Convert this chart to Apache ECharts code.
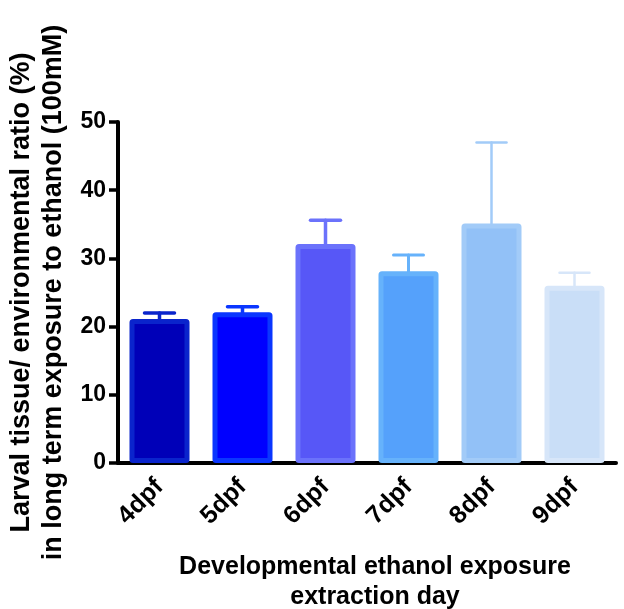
<!DOCTYPE html>
<html>
<head>
<meta charset="utf-8">
<script src="https://cdn.jsdelivr.net/npm/echarts@6/dist/echarts.min.js"></script>
<style>
html,body{margin:0;padding:0;background:#fff;}
#chart{width:624px;height:609px;}
</style>
</head>
<body>
<div id="chart"></div>
<script>
const categories = ['4dpf', '5dpf', '6dpf', '7dpf', '8dpf', '9dpf'];
const means = [21.1, 22.1, 32.1, 28.1, 35.1, 26.0];
const errors = [0.9, 0.8, 3.5, 2.4, 11.9, 1.9];
const yTicks = [0, 10, 20, 30, 40, 50];

const fillColors = ['#0000b8', '#0000ff', '#5757f7', '#55a1fb', '#92c1f7', '#c9def7'];
const edgeColors = ['#0a24cc', '#0a36ff', '#6b72fb', '#66b2fb', '#a2cbf8', '#d7e6f9'];
const errWidths = [3.5, 3.5, 3.5, 3, 2.5, 2.5];

const FONT = '"Liberation Sans", Arial, sans-serif';
const chart = echarts.init(document.getElementById('chart'), null, {renderer: 'canvas'});

chart.setOption({
  animation: false,
  grid: {left: 118, right: 8, top: 122, bottom: 146, containLabel: false, outerBoundsMode: 'none'},
  xAxis: {
    type: 'category',
    data: categories,
    name: 'Developmental ethanol exposure\nextraction day',
    nameLocation: 'middle',
    nameGap: 89,
    nameTextStyle: {fontFamily: FONT, fontWeight: 'bold', fontSize: 25, color: '#000', lineHeight: 30, verticalAlign: 'top', padding: [0, 0, 0, 16]},
    axisLine: {lineStyle: {color: '#000', width: 4}},
    axisTick: {alignWithLabel: true, length: 9, lineStyle: {color: '#000', width: 3.5}},
    axisLabel: {rotate: 45, margin: 20, fontFamily: FONT, fontWeight: 'bold', fontSize: 25, color: '#000'}
  },
  yAxis: {
    type: 'value',
    min: yTicks[0],
    max: yTicks[yTicks.length - 1],
    interval: 10,
    name: 'Larval tissue/ environmental ratio (%)\nin long term exposure to ethanol (100mM)',
    nameLocation: 'middle',
    nameGap: 44,
    nameTextStyle: {fontFamily: FONT, fontWeight: 'bold', fontSize: 27, color: '#000', lineHeight: 32, verticalAlign: 'bottom'},
    axisLine: {show: true, lineStyle: {color: '#000', width: 4}},
    axisTick: {show: true, length: 9, lineStyle: {color: '#000', width: 3.5}},
    axisLabel: {margin: 12, fontFamily: FONT, fontWeight: 'bold', fontSize: 23, color: '#000'},
    splitLine: {show: false}
  },
  series: [
    {
      type: 'custom',
      z: 1,
      data: categories.map((c, i) => [i, means[i], means[i] + errors[i]]),
      renderItem: function (params, api) {
        const i = api.value(0);
        const base = api.coord([i, api.value(1)]);
        const top = api.coord([i, api.value(2)]);
        const half = 15;
        const st = {stroke: edgeColors[i], lineWidth: errWidths[i], lineCap: 'round'};
        return {
          type: 'group',
          children: [
            {type: 'line', shape: {x1: base[0], y1: base[1], x2: top[0], y2: top[1]}, style: st},
            {type: 'line', shape: {x1: top[0] - half, y1: top[1], x2: top[0] + half, y2: top[1]}, style: st}
          ]
        };
      }
    },
    {
      type: 'bar',
      z: 2,
      barWidth: 60,
      data: means.map((v, i) => ({
        value: v,
        itemStyle: {color: fillColors[i], borderColor: edgeColors[i], borderWidth: 5, borderRadius: 1}
      }))
    }
  ]
});
</script>
</body>
</html>
